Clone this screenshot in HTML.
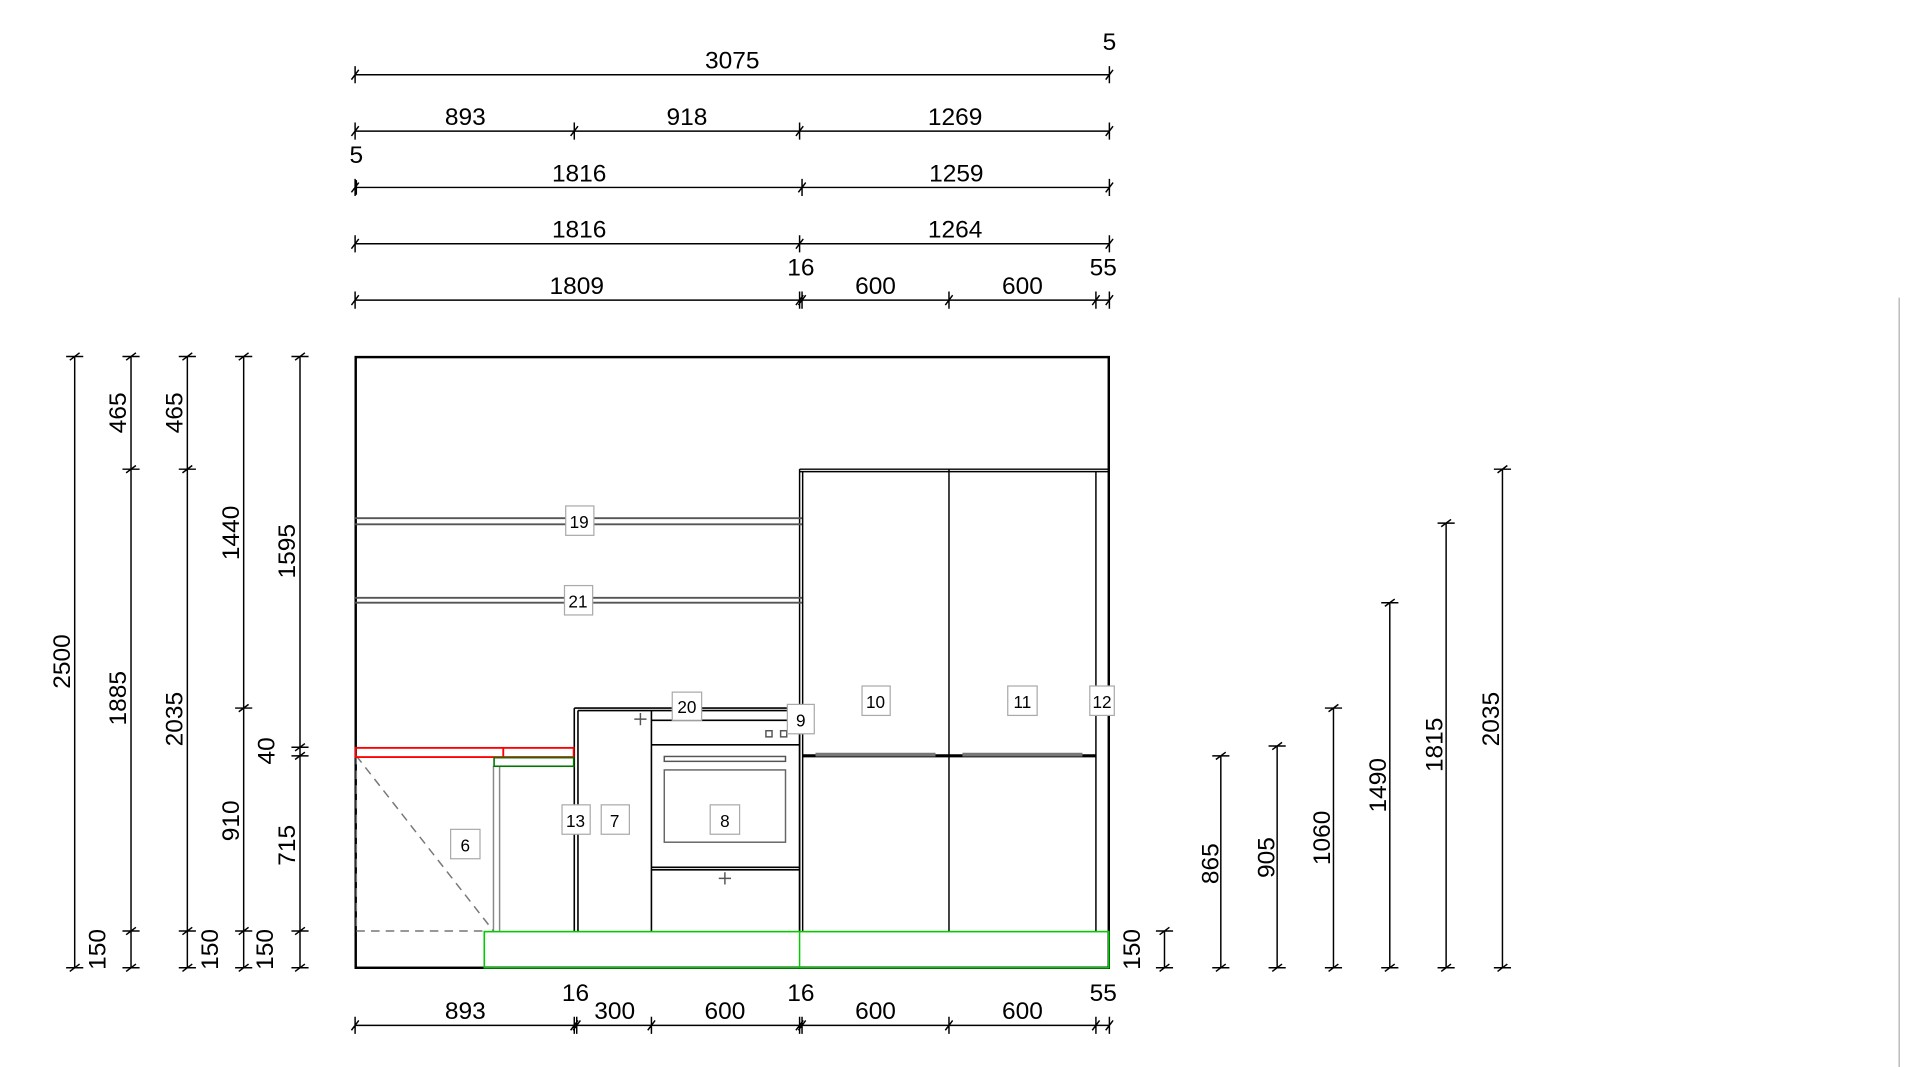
<!DOCTYPE html>
<html><head><meta charset="utf-8"><style>
html,body{margin:0;padding:0;background:#fff;overflow:hidden}
svg{display:block}
text{font-family:"Liberation Sans",sans-serif;font-size:20px;fill:#000;text-anchor:middle}
.lb rect{fill:#fff;stroke:#aaa;stroke-width:1}
.lb text{font-size:14px}
</style></head><body>
<svg width="1920" height="1067" viewBox="0 0 1568 871" preserveAspectRatio="none" xmlns="http://www.w3.org/2000/svg">
<g stroke="#000" stroke-width="1.2" fill="none">
<!-- top dims -->
<path d="M290 61H906 M290 107H906 M290 153H906 M290 199H906 M290 245H906 M290 837H906"/>
<path d="M290 54v14M287 65l6-8 M906 54v14M903 65l6-8M906 55v12"/>
<path d="M290 100v14M287 111l6-8 M469 100v14M466 111l6-8 M653 100v14M650 111l6-8 M906 100v14M903 111l6-8"/>
<path d="M290 146v14M287 157l6-8M291 147v12 M655 146v14M652 157l6-8 M906 146v14M903 157l6-8"/>
<path d="M290 192v14M287 203l6-8 M653 192v14M650 203l6-8 M906 192v14M903 203l6-8"/>
<path d="M290 238v14M287 249l6-8 M653 238v14M650 249l6-8 M655 238v14M652 249l6-8 M775 238v14M772 249l6-8 M895 238v14M892 249l6-8 M906 238v14M903 249l6-8"/>
<path d="M290 830v14M287 841l6-8 M469 830v14M466 841l6-8 M471 830v14M468 841l6-8 M532 830v14M529 841l6-8 M653 830v14M650 841l6-8 M655 830v14M652 841l6-8 M775 830v14M772 841l6-8 M895 830v14M892 841l6-8 M906 830v14M903 841l6-8"/>
<!-- left vertical dims -->
<path d="M61 291V790 M107 291V790 M153 291V790 M199 291V790 M245 291V790"/>
<path d="M54 291h14M57 294l8-6 M54 790h14M57 793l8-6"/>
<path d="M100 291h14M103 294l8-6 M100 383h14M103 386l8-6 M100 760h14M103 763l8-6 M100 790h14M103 793l8-6"/>
<path d="M146 291h14M149 294l8-6 M146 383h14M149 386l8-6 M146 760h14M149 763l8-6 M146 790h14M149 793l8-6"/>
<path d="M192 291h14M195 294l8-6 M192 578h14M195 581l8-6 M192 760h14M195 763l8-6 M192 790h14M195 793l8-6"/>
<path d="M238 291h14M241 294l8-6 M238 610h14M241 613l8-6 M238 617h14M241 620l8-6 M238 760h14M241 763l8-6 M238 790h14M241 793l8-6"/>
<!-- right vertical dims -->
<path d="M951 760V790 M997 617V790 M1043 609V790 M1089 578V790 M1135 492V790 M1181 427V790 M1227 383V790"/>
<path d="M944 760h14M947 763l8-6 M944 790h14M947 793l8-6"/>
<path d="M990 617h14M993 620l8-6 M990 790h14M993 793l8-6"/>
<path d="M1036 609h14M1039 612l8-6 M1036 790h14M1039 793l8-6"/>
<path d="M1082 578h14M1085 581l8-6 M1082 790h14M1085 793l8-6"/>
<path d="M1128 492h14M1131 495l8-6 M1128 790h14M1131 793l8-6"/>
<path d="M1174 427h14M1177 430l8-6 M1174 790h14M1177 793l8-6"/>
<path d="M1220 383h14M1223 386l8-6 M1220 790h14M1223 793l8-6"/>
<!-- room -->
<rect x="290.5" y="291.5" width="615" height="498.5" stroke-width="2"/>
<!-- tall cabinets -->
<path d="M653 383H906 M653 385H906 M653 383V760 M655.5 385V760 M775 383V760 M895 385V760" />
<path d="M655 617H895" stroke-width="2.5"/>
<path d="M666 616H764 M786 616H884" stroke="#777" stroke-width="3"/>
<!-- shelves -->
<path d="M290 423H655 M290 428H655 M290 488H655 M290 492H655" stroke="#555" stroke-width="1.5"/>
<!-- 7 column and oven -->
<path d="M469 578V760 M472 580V760 M469 578H653 M472 580H653 M532 580V760 M532 588H653 M532 608H653 M532 708H653 M532 710H653 M653 578V760" stroke-width="1.3"/>
<rect x="542.5" y="617.5" width="99" height="4" stroke="#555"/>
<rect x="542.5" y="628.5" width="99" height="59" stroke="#666"/>
<rect x="625.5" y="596.5" width="5" height="5" stroke="#555"/>
<rect x="637.5" y="596.5" width="5" height="5" stroke="#555"/>
<path d="M518 587h10M523 582v10 M587 717h10M592 712v10" stroke="#555"/>
<!-- left corner unit -->
<path d="M403 625V760 M408 625V760" stroke="#888"/>
<path d="M291 617L403 760 M291 760H395 M291 617V760" stroke="#777" stroke-dasharray="7,5"/>
<rect x="290.5" y="610.5" width="178" height="7.5" stroke="#f00" stroke-width="1.5"/>
<path d="M411 610V618" stroke="#f00" stroke-width="1.5"/>
<rect x="403.5" y="618.5" width="65" height="7" stroke="#070" stroke-width="1.3"/>
<!-- plinth -->
<rect x="395.5" y="760.5" width="510" height="29.5" stroke="#0c0" stroke-width="1.3"/>
<path d="M653 760V790" stroke="#0c0"/>
<path d="M1551 243V871" stroke="#bbb"/>
</g>
<!-- labels -->
<g class="lb">
<rect x="462" y="413" width="23" height="24"/><text x="473" y="431">19</text>
<rect x="461" y="478" width="23" height="24"/><text x="472" y="496">21</text>
<rect x="549" y="565" width="24" height="23"/><text x="561" y="582">20</text>
<rect x="643" y="575" width="22" height="24"/><text x="654" y="593">9</text>
<rect x="704" y="560" width="23" height="24"/><text x="715" y="578">10</text>
<rect x="823" y="560" width="24" height="24"/><text x="835" y="578">11</text>
<rect x="890" y="560" width="20" height="24"/><text x="900" y="578">12</text>
<rect x="459" y="657" width="23" height="24"/><text x="470" y="675">13</text>
<rect x="491" y="657" width="23" height="24"/><text x="502" y="675">7</text>
<rect x="580" y="657" width="24" height="24"/><text x="592" y="675">8</text>
<rect x="368" y="677" width="24" height="24"/><text x="380" y="695">6</text>
</g>
<!-- horizontal dim texts -->
<text x="598" y="56">3075</text><text x="906" y="41">5</text>
<text x="380" y="102">893</text><text x="561" y="102">918</text><text x="780" y="102">1269</text>
<text x="291" y="133">5</text><text x="473" y="148">1816</text><text x="781" y="148">1259</text>
<text x="473" y="194">1816</text><text x="780" y="194">1264</text>
<text x="471" y="240">1809</text><text x="654" y="225">16</text><text x="715" y="240">600</text><text x="835" y="240">600</text><text x="901" y="225">55</text>
<text x="380" y="832">893</text><text x="470" y="817">16</text><text x="502" y="832">300</text><text x="592" y="832">600</text><text x="654" y="817">16</text><text x="715" y="832">600</text><text x="835" y="832">600</text><text x="901" y="817">55</text>
<!-- vertical dim texts -->
<text transform="translate(57,540) rotate(-90)">2500</text>
<text transform="translate(103,337) rotate(-90)">465</text>
<text transform="translate(103,570) rotate(-90)">1885</text>
<text transform="translate(86,775) rotate(-90)">150</text>
<text transform="translate(149,337) rotate(-90)">465</text>
<text transform="translate(149,587) rotate(-90)">2035</text>
<text transform="translate(178,775) rotate(-90)">150</text>
<text transform="translate(195,435) rotate(-90)">1440</text>
<text transform="translate(195,670) rotate(-90)">910</text>
<text transform="translate(223,775) rotate(-90)">150</text>
<text transform="translate(241,450) rotate(-90)">1595</text>
<text transform="translate(224,613) rotate(-90)">40</text>
<text transform="translate(241,690) rotate(-90)">715</text>
<text transform="translate(931,775) rotate(-90)">150</text>
<text transform="translate(995,705) rotate(-90)">865</text>
<text transform="translate(1041,700) rotate(-90)">905</text>
<text transform="translate(1086,684) rotate(-90)">1060</text>
<text transform="translate(1132,641) rotate(-90)">1490</text>
<text transform="translate(1178,608) rotate(-90)">1815</text>
<text transform="translate(1224,587) rotate(-90)">2035</text>
</svg>
</body></html>
